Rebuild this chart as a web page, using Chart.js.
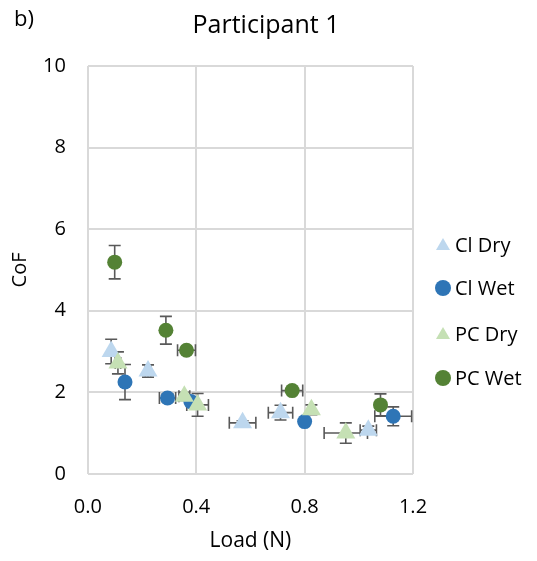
<!DOCTYPE html>
<html>
<head>
<meta charset="utf-8">
<script src="https://cdn.jsdelivr.net/npm/chart.js@4.4.1/dist/chart.umd.min.js"></script>
<style>
  html, body { margin: 0; padding: 0; background: #fff; }
  #wrap { width: 537px; height: 561px; }
</style>
</head>
<body>
<div id="wrap"><canvas id="chart" width="537" height="561"></canvas></div>
<script>
// values
const xTicks = [0.0, 0.4, 0.8, 1.2];
const yTicks = [0, 2, 4, 6, 8, 10];

const clDryX = [0.086, 0.222, 0.571, 0.711, 1.035];
const clDryY = [3.0, 2.52, 1.25, 1.5, 1.07];
const clDryXErr = [0, 0.01, 0.049, 0.045, 0.03];
const clDryYErr = [0.3, 0.15, 0.05, 0.18, 0.1];

const clWetX = [0.137, 0.294, 0.38, 0.80, 1.127];
const clWetY = [2.25, 1.86, 1.77, 1.28, 1.41];
const clWetXErr = [0, 0.03, 0, 0, 0.068];
const clWetYErr = [0.43, 0.1, 0, 0, 0.23];

const pcDryX = [0.111, 0.356, 0.405, 0.825, 0.952];
const pcDryY = [2.72, 1.9, 1.69, 1.57, 1.0];
const pcDryXErr = [0.01, 0.02, 0.04, 0, 0.08];
const pcDryYErr = [0.27, 0.1, 0.28, 0.12, 0.25];

const pcWetX = [0.099, 0.288, 0.364, 0.754, 1.08];
const pcWetY = [5.19, 3.52, 3.03, 2.04, 1.69];
const pcWetXErr = [0, 0, 0.033, 0.039, 0];
const pcWetYErr = [0.41, 0.34, 0, 0, 0.27];

const FONT = "'Open Sans', sans-serif";

function pts(xs, ys, xe, ye) {
    return xs.map((x, i) => ({ x: x, y: ys[i], xErr: xe[i], yErr: ye[i] }));
}

const series = [
    { label: 'Cl Dry', data: pts(clDryX, clDryY, clDryXErr, clDryYErr), color: '#BDD7EE', style: 'triangle', r: 11, order: 4 },
    { label: 'Cl Wet', data: pts(clWetX, clWetY, clWetXErr, clWetYErr), color: '#2E75B6', style: 'circle', r: 7.5, order: 3 },
    { label: 'PC Dry', data: pts(pcDryX, pcDryY, pcDryXErr, pcDryYErr), color: '#C5E0B4', style: 'triangle', r: 11, order: 2 },
    { label: 'PC Wet', data: pts(pcWetX, pcWetY, pcWetXErr, pcWetYErr), color: '#548235', style: 'circle', r: 7.5, order: 1 },
];

// error bars, drawn under the markers
const errorBars = {
    id: 'errorBars',
    beforeDatasetsDraw(chart) {
        const ctx = chart.ctx;
        const xs = chart.scales.x, ys = chart.scales.y;
        const cap = 6;
        ctx.save();
        ctx.strokeStyle = '#595959';
        ctx.lineWidth = 1.6;
        chart.data.datasets.forEach(ds => {
            ds.data.forEach(p => {
                const px = xs.getPixelForValue(p.x), py = ys.getPixelForValue(p.y);
                ctx.beginPath();
                if (p.yErr) {
                    const t = ys.getPixelForValue(p.y + p.yErr), b = ys.getPixelForValue(p.y - p.yErr);
                    ctx.moveTo(px, t); ctx.lineTo(px, b);
                    ctx.moveTo(px - cap, t); ctx.lineTo(px + cap, t);
                    ctx.moveTo(px - cap, b); ctx.lineTo(px + cap, b);
                }
                if (p.xErr) {
                    const l = xs.getPixelForValue(p.x - p.xErr), r = xs.getPixelForValue(p.x + p.xErr);
                    ctx.moveTo(l, py); ctx.lineTo(r, py);
                    ctx.moveTo(l, py - cap); ctx.lineTo(l, py + cap);
                    ctx.moveTo(r, py - cap); ctx.lineTo(r, py + cap);
                }
                ctx.stroke();
            });
        });
        ctx.restore();
    }
};

// title, "b)" label and the legend on the right
const sideText = {
    id: 'sideText',
    afterDraw(chart) {
        const ctx = chart.ctx;
        ctx.save();
        ctx.fillStyle = '#000';
        ctx.textBaseline = 'middle';
        ctx.font = '22px ' + FONT;
        ctx.textAlign = 'left';
        ctx.fillText('b)', 14, 20);

        ctx.font = '25px ' + FONT;
        ctx.textAlign = 'center';
        ctx.fillText('Participant 1', 266, 26);

        ctx.textAlign = 'left';
        ctx.font = '20px ' + FONT;
        const ys = [245, 288, 334, 378];
        series.forEach((s, i) => {
            const y = ys[i];
            ctx.fillStyle = s.color;
            ctx.beginPath();
            if (s.style === 'triangle') {
                ctx.moveTo(443, y - 7); ctx.lineTo(450, y + 5); ctx.lineTo(436, y + 5);
            } else {
                ctx.arc(443, y, 8, 0, Math.PI * 2);
            }
            ctx.fill();
            ctx.fillStyle = '#000';
            ctx.fillText(s.label, 455, y + 1);
        });
        ctx.restore();
    }
};

new Chart(document.getElementById('chart'), {
    type: 'scatter',
    data: {
        datasets: series.map(s => ({
            label: s.label,
            data: s.data,
            order: s.order,
            pointStyle: s.style,
            pointRadius: s.r,
            pointHoverRadius: s.r,
            backgroundColor: s.color,
            borderColor: s.color,
            borderWidth: 0,
        }))
    },
    options: {
        responsive: false,
        animation: false,
        layout: { padding: { left: 0, right: 124, top: 66, bottom: 7 } },
        plugins: {
            legend: { display: false },
            tooltip: { enabled: false },
        },
        scales: {
            x: {
                type: 'linear',
                min: 0, max: 1.2,
                afterBuildTicks: axis => { axis.ticks = xTicks.map(v => ({ value: v })); },
                ticks: {
                    color: '#000',
                    font: { family: FONT, size: 20 },
                    padding: 21,
                    callback: v => v.toFixed(1),
                },
                grid: { color: '#D9D9D9', lineWidth: 2, drawTicks: false },
                border: { display: false },
                title: { display: true, text: 'Load (N)', color: '#000', font: { family: FONT, size: 21 }, padding: { top: -11, bottom: 0 } },
            },
            y: {
                min: 0, max: 10,
                afterBuildTicks: axis => { axis.ticks = yTicks.map(v => ({ value: v })); },
                ticks: {
                    color: '#000',
                    font: { family: FONT, size: 20 },
                    padding: 22,
                },
                grid: { color: '#D9D9D9', lineWidth: 2, drawTicks: false },
                border: { display: false },
                title: { display: true, text: 'CoF', color: '#000', font: { family: FONT, size: 20 }, padding: { top: 8, bottom: -11 } },
            },
        },
    },
    plugins: [errorBars, sideText],
});
</script>
</body>
</html>
